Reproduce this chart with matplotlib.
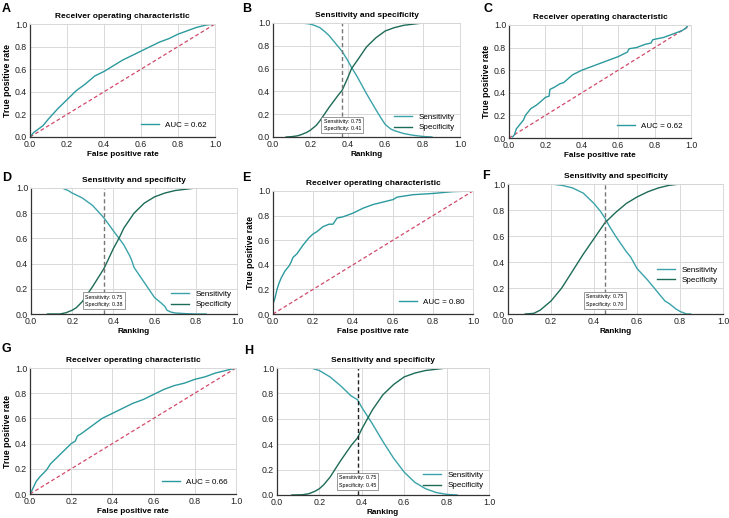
import matplotlib
matplotlib.use('Agg')
import matplotlib.pyplot as plt

plt.rcParams['font.family'] = ['Liberation Sans', 'DejaVu Sans']

# ROC curves (false positive rate, true positive rate)
a_fpr = [0, 0.02, 0.07, 0.1, 0.15, 0.2, 0.25, 0.3, 0.35, 0.4, 0.45, 0.5, 0.55, 0.6, 0.65, 0.7, 0.75, 0.8, 0.85, 0.9, 0.95, 1.0]
a_tpr = [0, 0.04, 0.1, 0.16, 0.25, 0.33, 0.41, 0.47, 0.54, 0.58, 0.63, 0.68, 0.72, 0.76, 0.80, 0.84, 0.87, 0.91, 0.94, 0.97, 0.99, 1.0]

c_fpr = [0.02, 0.03, 0.04, 0.05, 0.08, 0.09, 0.1, 0.12, 0.15, 0.18, 0.2, 0.22, 0.225, 0.25, 0.28, 0.3, 0.35, 0.4, 0.45,
         0.5, 0.55, 0.6, 0.65, 0.66, 0.7, 0.75, 0.78, 0.79, 0.85, 0.9, 0.95, 0.97, 0.98, 0.985]
c_tpr = [0.01, 0.03, 0.08, 0.1, 0.16, 0.2, 0.22, 0.26, 0.29, 0.33, 0.36, 0.37, 0.43, 0.45, 0.48, 0.49, 0.56, 0.6, 0.63,
         0.66, 0.69, 0.72, 0.76, 0.79, 0.8, 0.83, 0.84, 0.87, 0.89, 0.92, 0.95, 0.97, 0.99, 1.0]

e_fpr = [0, 0, 0.01, 0.02, 0.03, 0.04, 0.05, 0.06, 0.08, 0.09, 0.1, 0.12, 0.15, 0.18, 0.2, 0.22, 0.25, 0.28, 0.3, 0.32,
         0.35, 0.4, 0.45, 0.5, 0.55, 0.6, 0.62, 0.7, 0.8, 0.9, 1.0]
e_tpr = [0, 0.08, 0.13, 0.2, 0.25, 0.29, 0.32, 0.35, 0.39, 0.42, 0.46, 0.49, 0.56, 0.62, 0.65, 0.67, 0.71, 0.73, 0.73, 0.78,
         0.79, 0.82, 0.86, 0.89, 0.91, 0.93, 0.95, 0.97, 0.98, 0.995, 1.0]

g_fpr = [0, 0.01, 0.03, 0.05, 0.08, 0.1, 0.15, 0.2, 0.22, 0.23, 0.25, 0.3, 0.35, 0.4, 0.45, 0.5, 0.55, 0.6, 0.65, 0.7,
         0.75, 0.8, 0.85, 0.9, 0.95, 1.0]
g_tpr = [0, 0.03, 0.1, 0.14, 0.19, 0.24, 0.32, 0.4, 0.42, 0.46, 0.48, 0.54, 0.6, 0.64, 0.68, 0.72, 0.75, 0.79, 0.83, 0.86,
         0.88, 0.91, 0.93, 0.96, 0.98, 1.0]

auc_values = {'A': 0.62, 'C': 0.62, 'E': 0.80, 'G': 0.66}

# sensitivity / specificity vs ranking
b_sens_x = [0.07, 0.15, 0.18, 0.2, 0.22, 0.25, 0.28, 0.3, 0.33, 0.35, 0.37, 0.4, 0.42, 0.45, 0.5, 0.55, 0.58, 0.6,
            0.63, 0.65, 0.7, 0.75, 0.8, 0.85]
b_sens_y = [1.0, 1.0, 0.995, 0.99, 0.98, 0.96, 0.92, 0.89, 0.83, 0.79, 0.75, 0.67, 0.61, 0.53, 0.38, 0.24, 0.16, 0.11,
            0.07, 0.055, 0.03, 0.015, 0.005, 0]
b_spec_x = [0.07, 0.1, 0.13, 0.15, 0.18, 0.2, 0.23, 0.25, 0.3, 0.35, 0.37, 0.4, 0.42, 0.45, 0.5, 0.55, 0.6, 0.65, 0.7,
            0.75, 0.8, 1.0]
b_spec_y = [0, 0.003, 0.01, 0.02, 0.04, 0.06, 0.1, 0.14, 0.26, 0.37, 0.41, 0.52, 0.6, 0.67, 0.79, 0.87, 0.93, 0.96, 0.98,
            0.99, 1.0, 1.0]

d_sens_x = [0.08, 0.15, 0.18, 0.2, 0.25, 0.3, 0.35, 0.36, 0.4, 0.45, 0.48, 0.49, 0.5, 0.55, 0.6, 0.63, 0.65, 0.66, 0.68,
            0.7, 0.75, 0.8, 0.85]
d_sens_y = [1.0, 1.0, 0.98, 0.96, 0.92, 0.86, 0.77, 0.75, 0.66, 0.55, 0.46, 0.42, 0.37, 0.25, 0.13, 0.09, 0.06, 0.03,
            0.015, 0.008, 0.003, 0, 0]
d_spec_x = [0.08, 0.14, 0.17, 0.2, 0.22, 0.25, 0.3, 0.35, 0.36, 0.4, 0.43, 0.45, 0.5, 0.55, 0.6, 0.65, 0.7, 0.75, 0.8, 1.0]
d_spec_y = [0, 0, 0.01, 0.03, 0.05, 0.1, 0.22, 0.35, 0.38, 0.52, 0.61, 0.68, 0.8, 0.88, 0.93, 0.96, 0.98, 0.99, 1.0, 1.0]

f_sens_x = [0.08, 0.2, 0.25, 0.3, 0.35, 0.4, 0.43, 0.45, 0.47, 0.5, 0.55, 0.57, 0.6, 0.65, 0.7, 0.73, 0.75, 0.78, 0.8,
            0.83, 0.85]
f_sens_y = [1.0, 1.0, 0.99, 0.97, 0.93, 0.85, 0.79, 0.74, 0.68, 0.6, 0.48, 0.44, 0.35, 0.26, 0.16, 0.1, 0.08, 0.04, 0.02,
            0.0, 0]
f_spec_x = [0.08, 0.12, 0.15, 0.2, 0.25, 0.3, 0.35, 0.4, 0.45, 0.5, 0.55, 0.6, 0.65, 0.7, 0.75, 0.8, 1.0]
f_spec_y = [0, 0.005, 0.03, 0.1, 0.2, 0.33, 0.46, 0.58, 0.7, 0.78, 0.85, 0.9, 0.94, 0.97, 0.99, 1.0, 1.0]

h_sens_x = [0.07, 0.16, 0.18, 0.2, 0.25, 0.3, 0.35, 0.38, 0.4, 0.45, 0.5, 0.55, 0.6, 0.65, 0.7, 0.75, 0.8, 0.85]
h_sens_y = [1.0, 1.0, 0.99, 0.98, 0.93, 0.86, 0.78, 0.75, 0.69, 0.56, 0.42, 0.29, 0.18, 0.1, 0.05, 0.02, 0.005, 0]
h_spec_x = [0.07, 0.12, 0.15, 0.18, 0.2, 0.22, 0.25, 0.3, 0.35, 0.38, 0.4, 0.43, 0.45, 0.5, 0.55, 0.6, 0.65, 0.7,
            0.75, 0.8, 1.0]
h_spec_y = [0, 0.002, 0.01, 0.03, 0.05, 0.08, 0.14, 0.27, 0.39, 0.45, 0.52, 0.61, 0.67, 0.79, 0.87, 0.93, 0.96, 0.98,
            0.99, 1.0, 1.0]

cutoffs = {'B': 0.37, 'D': 0.355, 'F': 0.45, 'H': 0.38}
spec_at_cut = {'B': 0.41, 'D': 0.38, 'F': 0.70, 'H': 0.45}

ROC_COLOR = '#2b9a9e'
SENS_COLOR = '#3aa3a9'
SPEC_COLOR = '#1d6b57'
DIAG_COLOR = '#d2486a'
GRID_COLOR = '#d9d9d9'

W, H = 729, 518


def make_axes(fig, x0, x1, y0, y1):
    # pixel box -> figure fraction
    return fig.add_axes([x0 / W, (H - y1) / H, (x1 - x0) / W, (y1 - y0) / H])


def style(ax):
    ax.set_xlim(0, 1)
    ax.set_ylim(0, 1)
    ticks = [0, 0.2, 0.4, 0.6, 0.8, 1.0]
    ax.set_xticks(ticks)
    ax.set_yticks(ticks)
    ax.set_xticklabels(['%.1f' % t for t in ticks])
    ax.set_yticklabels(['%.1f' % t for t in ticks])
    ax.tick_params(length=0, labelsize=6.3, pad=2, colors='#222222')
    ax.grid(True, color=GRID_COLOR, linewidth=0.7)
    ax.set_axisbelow(True)
    for s in ['top', 'right']:
        ax.spines[s].set_color(GRID_COLOR)
        ax.spines[s].set_linewidth(0.7)
    for s in ['left', 'bottom']:
        ax.spines[s].set_color('#333333')
        ax.spines[s].set_linewidth(0.9)


def roc_panel(ax, fpr, tpr, auc):
    style(ax)
    ax.plot([0, 1], [0, 1], linestyle='--', color=DIAG_COLOR, linewidth=0.9, dashes=(3, 2))
    ax.plot(fpr, tpr, color=ROC_COLOR, linewidth=1.0, label='AUC = %.2f' % auc)
    ax.set_title('Receiver operating characteristic', fontsize=6.0, fontweight='bold', pad=4)
    ax.set_xlabel('False positive rate', fontsize=5.9, fontweight='bold', labelpad=1.5)
    ax.set_ylabel('True positive rate', fontsize=6.3, fontweight='bold', labelpad=2)
    ax.legend(loc='lower right', frameon=False, fontsize=5.8, handlelength=2.2, borderaxespad=0.6)


def ss_panel(ax, sx, sy, px, py, cut, spec, line_color, legend_loc, legend_anchor=None):
    style(ax)
    ax.plot(sx, sy, color=SENS_COLOR, linewidth=1.0, label='Sensitivity')
    ax.plot(px, py, color=SPEC_COLOR, linewidth=1.0, label='Specificity')
    ax.axvline(cut, color=line_color, linestyle='--', linewidth=1.0, dashes=(3, 2))
    ax.text(cut, 0.105, 'Sensitivity: 0.75\nSpecificity: %.2f' % spec, fontsize=3.8, ha='center', va='center',
            linespacing=1.6, bbox=dict(boxstyle='square,pad=0.4', facecolor='white', edgecolor='#888888', linewidth=0.6))
    ax.set_title('Sensitivity and specificity', fontsize=6.0, fontweight='bold', pad=4)
    ax.set_xlabel('Ranking', fontsize=5.9, fontweight='bold', labelpad=1.5)
    if legend_anchor is None:
        ax.legend(loc=legend_loc, frameon=False, fontsize=5.8, handlelength=2.2, borderaxespad=0.3, labelspacing=0.3)
    else:
        ax.legend(loc=legend_loc, bbox_to_anchor=legend_anchor, frameon=False, fontsize=5.8, handlelength=2.2,
                  borderaxespad=0.3, labelspacing=0.3)


fig = plt.figure(figsize=(W / 100, H / 100), dpi=100)

axA = make_axes(fig, 30, 215, 24, 137)
axB = make_axes(fig, 273, 460, 23, 137)
axC = make_axes(fig, 509, 691, 25, 138)
axD = make_axes(fig, 31, 237, 188, 314)
axE = make_axes(fig, 273, 473, 191, 314)
axF = make_axes(fig, 508, 723, 184, 314)
axG = make_axes(fig, 30, 236, 368, 494)
axH = make_axes(fig, 277, 489, 368, 495)

roc_panel(axA, a_fpr, a_tpr, auc_values['A'])
roc_panel(axC, c_fpr, c_tpr, auc_values['C'])
roc_panel(axE, e_fpr, e_tpr, auc_values['E'])
roc_panel(axG, g_fpr, g_tpr, auc_values['G'])

ss_panel(axB, b_sens_x, b_sens_y, b_spec_x, b_spec_y, cutoffs['B'], spec_at_cut['B'], '#777777', 'lower right')
ss_panel(axD, d_sens_x, d_sens_y, d_spec_x, d_spec_y, cutoffs['D'], spec_at_cut['D'], '#777777', 'lower right')
ss_panel(axF, f_sens_x, f_sens_y, f_spec_x, f_spec_y, cutoffs['F'], spec_at_cut['F'], '#777777', 'center right', (1.0, 0.3))
ss_panel(axH, h_sens_x, h_sens_y, h_spec_x, h_spec_y, cutoffs['H'], spec_at_cut['H'], '#222222', 'lower right')

# panel letters
letters = [('A', 2, 3), ('B', 242, 3), ('C', 483, 3), ('D', 2, 172), ('E', 242, 172), ('F', 482, 170),
           ('G', 2, 343), ('H', 244, 345)]
for lab, px, py in letters:
    fig.text(px / W, 1 - py / H, lab, fontsize=9, fontweight='bold', ha='left', va='top')

fig.savefig('out.png', dpi=100)
